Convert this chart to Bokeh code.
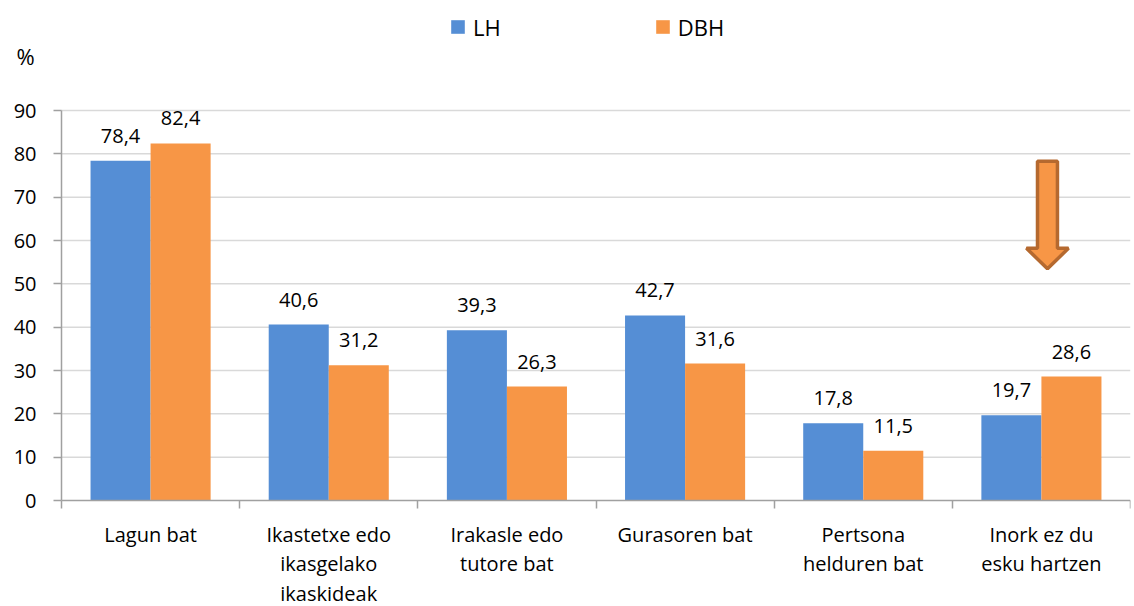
from bokeh.plotting import figure
from bokeh.models import (Range1d, FixedTicker, Legend, LegendItem, Label, ColumnDataSource, LabelSet)
from bokeh.core.properties import value
from bokeh.embed import file_html
from bokeh.resources import INLINE

categories = ["Lagun bat", "Ikastetxe edo\nikasgelako\nikaskideak", "Irakasle edo\ntutore bat",
              "Gurasoren bat", "Pertsona\nhelduren bat", "Inork ez du\nesku hartzen"]
lh = [78.4, 40.6, 39.3, 42.7, 17.8, 19.7]
dbh = [82.4, 31.2, 26.3, 31.6, 11.5, 28.6]
series_names = ["LH", "DBH"]
y_ticks = [0, 10, 20, 30, 40, 50, 60, 70, 80, 90]
arrow_top, arrow_shaft_end, arrow_tip = 78.3, 58.2, 53.5

BLUE = "#558ED5"
ORANGE = "#F79646"
AXIS = "#A0A0A0"
FONT = "Open Sans"

n = len(categories)
centers = [i + 0.5 for i in range(n)]
off = 0.1685
bw = 0.337

# layout: the frame covers the whole canvas; both axes are pinned at 0
# inside it, leaving room for their labels, the legend and "%"
W, H = 1134, 606
FRAME_W = 1130
AXIS_X_PX = 61          # value axis position from the left
ZERO_Y_PX = 500         # category axis position from the top
TOP_Y_PX = 110          # position of the top tick from the top
ymax = y_ticks[-1]
px_per_unit = (ZERO_Y_PX - TOP_Y_PX) / ymax
x0 = -AXIS_X_PX * n / (FRAME_W - AXIS_X_PX)
y0 = -(H - ZERO_Y_PX) / px_per_unit
y1 = ZERO_Y_PX / px_per_unit

p = figure(width=W, height=H, output_backend="svg", toolbar_location=None, title=None,
           x_range=Range1d(x0, n), y_range=Range1d(y0, y1),
           min_border_left=0, min_border_right=W - FRAME_W, min_border_top=0,
           min_border_bottom=0)
p.outline_line_color = None
p.background_fill_color = "white"
p.border_fill_color = "white"

# horizontal gridlines from the value axis to the right edge
p.xgrid.visible = False
p.ygrid.visible = False
p.segment(x0=[0] * len(y_ticks[1:]), x1=[n] * len(y_ticks[1:]), y0=y_ticks[1:], y1=y_ticks[1:],
          line_color="#D9D9D9", line_width=1.5)

src = ColumnDataSource(dict(
    xl=[c - off for c in centers], xr=[c + off for c in centers],
    lh=lh, dbh=dbh,
    lh_t=[f"{v:.1f}".replace(".", ",") for v in lh],
    dbh_t=[f"{v:.1f}".replace(".", ",") for v in dbh],
))

r1 = p.vbar(x="xl", top="lh", width=bw, source=src, fill_color=BLUE, line_color=None)
r2 = p.vbar(x="xr", top="dbh", width=bw, source=src, fill_color=ORANGE, line_color=None)

for xcol, ycol, tcol in [("xl", "lh", "lh_t"), ("xr", "dbh", "dbh_t")]:
    ls = LabelSet(x=xcol, y=ycol, text=tcol, source=src, text_align="center",
                  text_baseline="alphabetic", y_offset=18, text_font=value(FONT),
                  text_font_size=value("20px"), text_color="#000000")
    p.add_layout(ls)

# arrow on last category
ac = centers[-1] + 0.034
sw, hw = 0.056, 0.118
ax = [ac - sw, ac + sw, ac + sw, ac + hw, ac, ac - hw, ac - sw]
ay = [arrow_top, arrow_top, arrow_shaft_end, arrow_shaft_end, arrow_tip, arrow_shaft_end, arrow_shaft_end]
p.patch(ax, ay, fill_color=ORANGE, line_color="#B5692F", line_width=3.5)

# y axis
p.yaxis.fixed_location = 0
p.yaxis.bounds = (0, ymax)
p.yaxis.ticker = FixedTicker(ticks=y_ticks)
p.yaxis.axis_line_color = AXIS
p.yaxis.axis_line_width = 1.5
p.yaxis.major_tick_line_color = AXIS
p.yaxis.major_tick_line_width = 1.5
p.yaxis.major_tick_out = 8
p.yaxis.major_tick_in = 0
p.yaxis.minor_tick_line_color = None
p.yaxis.major_label_text_font = FONT
p.yaxis.major_label_text_font_size = "20px"
p.yaxis.major_label_text_color = "#000000"
p.yaxis.major_label_standoff = 17

# x axis
p.xaxis.fixed_location = 0
p.xaxis.bounds = (0, n)
p.xaxis.ticker = FixedTicker(ticks=centers, minor_ticks=list(range(n + 1)))
p.xaxis.major_label_overrides = {c: lab for c, lab in zip(centers, categories)}
p.xaxis.axis_line_color = AXIS
p.xaxis.axis_line_width = 1.5
p.xaxis.major_tick_line_color = None
p.xaxis.major_tick_out = 0
p.xaxis.major_tick_in = 0
p.xaxis.minor_tick_line_color = AXIS
p.xaxis.minor_tick_line_width = 1.5
p.xaxis.minor_tick_out = 8
p.xaxis.minor_tick_in = 0
p.xaxis.major_label_text_font = FONT
p.xaxis.major_label_text_font_size = "20px"
p.xaxis.major_label_text_color = "#000000"
p.xaxis.major_label_text_line_height = 1.1
p.xaxis.major_label_standoff = 12

legend = Legend(items=[LegendItem(label=series_names[0], renderers=[r1]),
                       LegendItem(label=series_names[1], renderers=[r2])],
                orientation="horizontal", location=(449, H - 41.5),
                label_text_font=FONT, label_text_font_size="22px", label_text_color="#000000",
                glyph_width=17, glyph_height=17, label_standoff=7, spacing=153,
                border_line_color=None, background_fill_alpha=0, padding=0, margin=0)
p.add_layout(legend, "center")

p.add_layout(Label(x=16, y=H - 55, x_units="screen", y_units="screen", text="%",
                   text_font=FONT, text_font_size="22px", text_baseline="middle",
                   text_color="#000000"))

open("out.html", "w").write(file_html(p, INLINE))
